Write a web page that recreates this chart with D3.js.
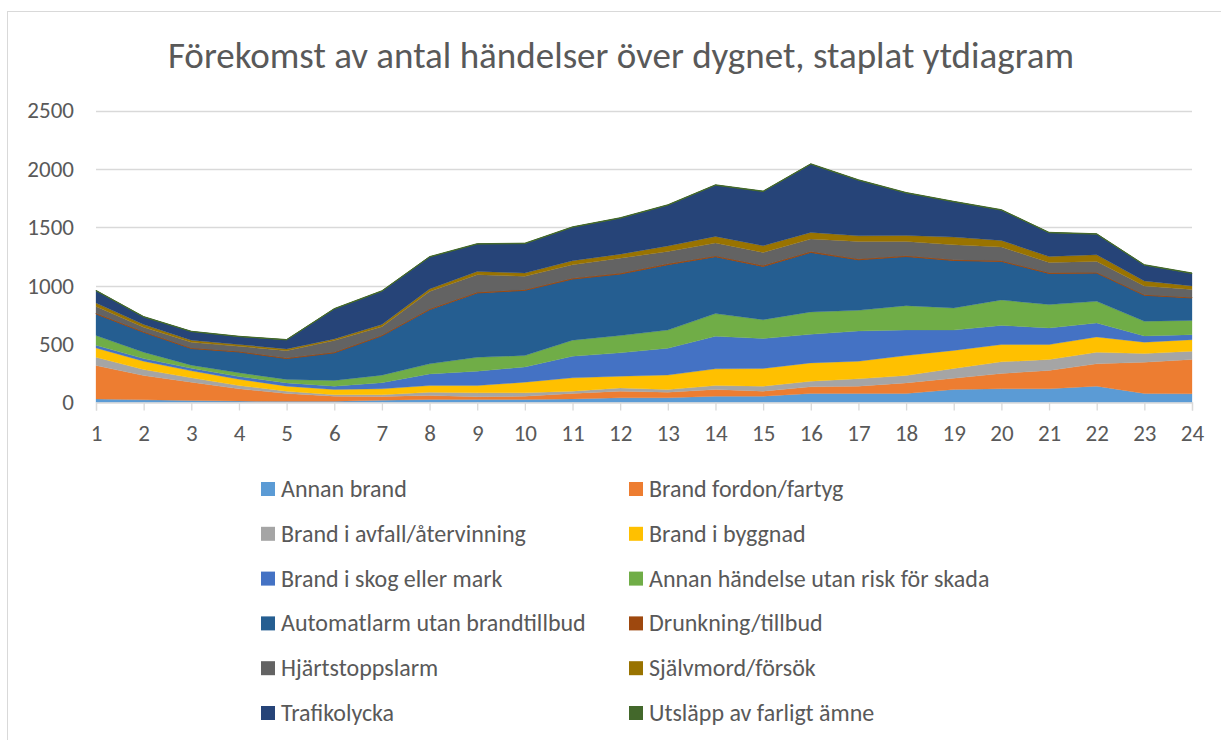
<!DOCTYPE html>
<html>
<head>
<meta charset="utf-8">
<script src="https://cdn.jsdelivr.net/npm/d3@7"></script>
<style>
body{margin:0;background:#fff;}
svg text{font-family:Carlito,Calibri,Lato,"Open Sans",sans-serif;fill:#595959;}
</style>
</head>
<body>
<svg id="chart" width="1221" height="740"></svg>
<script>
// timmar på dygnet
var hours = ["1","2","3","4","5","6","7","8","9","10","11","12","13","14","15","16","17","18","19","20","21","22","23","24"];

var seriesNames = ["Annan brand","Brand fordon/fartyg","Brand i avfall/återvinning","Brand i byggnad",
	"Brand i skog eller mark","Annan händelse utan risk för skada","Automatlarm utan brandtillbud",
	"Drunkning/tillbud","Hjärtstoppslarm","Självmord/försök","Trafikolycka","Utsläpp av farligt ämne"];

var colors = ["#5B9BD5","#ED7D31","#A5A5A5","#FFC000","#4472C4","#70AD47","#255E91",
	"#9E480E","#636363","#997300","#264478","#43682B"];

// värden
var annanBrand    = [30,23,17,12,10,10,20,26,26,26,31,40,40,54,54,77,77,77,111,117,117,140,77,74];
var brandFordon   = [286,208,157,105,67,44,32,34,23,28,46,57,48,57,43,57,63,91,96,131,157,191,268,294];
var brandAvfall   = [71,51,37,28,20,12,14,28,34,29,20,28,23,34,43,48,63,63,85,100,94,99,74,71];
var brandByggnad  = [80,71,60,54,43,45,51,57,62,91,114,100,124,143,151,157,150,171,154,148,128,131,97,99];
var brandSkog     = [23,23,22,23,28,29,53,100,123,131,185,200,230,279,256,245,259,219,174,164,142,120,54,43];
var annanHandelse = [83,54,26,32,29,48,64,86,119,97,137,148,155,194,162,191,177,208,189,218,200,185,125,122];
var automatlarm   = [185,171,143,179,179,237,337,464,551,558,524,527,560,487,456,510,433,421,407,330,267,242,223,192];
var drunkning     = [6,5,5,4,4,5,5,6,6,6,6,7,7,7,7,7,7,7,6,6,6,6,5,5];
var hjartstopp    = [58,38,48,44,64,100,72,150,150,114,116,129,106,110,113,107,150,122,128,117,88,94,74,68];
var sjalvmord     = [29,23,18,15,15,14,20,21,28,28,35,34,47,57,57,57,48,51,66,56,51,57,43,30];
var trafikolycka  = [105,65,74,68,77,256,285,273,234,252,286,308,349,438,464,584,476,364,302,260,203,176,136,107];
var utslapp       = [4,4,3,3,3,4,4,4,4,4,4,4,4,4,4,4,4,4,4,4,4,4,4,4];

var yTicks = [0,500,1000,1500,2000,2500];

var allSeries = [annanBrand,brandFordon,brandAvfall,brandByggnad,brandSkog,annanHandelse,
	automatlarm,drunkning,hjartstopp,sjalvmord,trafikolycka,utslapp];

// bygg tabell för d3.stack
var table = [];
for(var i = 0; i < hours.length; i++){
	var row = {hour: hours[i]};
	for(var s = 0; s < seriesNames.length; s++){
		row[seriesNames[s]] = allSeries[s][i];
	}
	table.push(row);
}

var svg = d3.select("#chart");

// ram runt diagrammet
svg.append("rect")
	.attr("x", 7.5).attr("y", 11.5)
	.attr("width", 1240).attr("height", 760)
	.attr("fill", "none").attr("stroke", "#d9d9d9").attr("stroke-width", 1);

svg.append("text")
	.attr("x", 621).attr("y", 68)
	.attr("text-anchor", "middle")
	.style("font-size", "37px")
	.style("font-weight", 300)
	.text("Förekomst av antal händelser över dygnet, staplat ytdiagram");

var x = d3.scalePoint().domain(hours).range([96, 1192]);
var y = d3.scaleLinear().domain([0, 2500]).range([402.5, 110.5]);

// rutnät
svg.append("g").selectAll("line")
	.data(yTicks.slice(1))
	.enter().append("line")
	.attr("x1", 96).attr("x2", 1192)
	.attr("y1", function(d){ return Math.round(y(d)) + 0.5; })
	.attr("y2", function(d){ return Math.round(y(d)) + 0.5; })
	.attr("stroke", "#d9d9d9").attr("stroke-width", 1.3);

var stack = d3.stack().keys(seriesNames);
var layers = stack(table);

var area = d3.area()
	.x(function(d){ return x(d.data.hour); })
	.y0(function(d){ return y(d[0]); })
	.y1(function(d){ return y(d[1]); });

svg.append("g").selectAll("path")
	.data(layers)
	.enter().append("path")
	.attr("d", area)
	.attr("fill", function(d, i){ return colors[i]; })
	.attr("stroke", function(d, i){ return colors[i]; })
	.attr("stroke-width", function(d, i){ return (i == 7 || i == 11) ? 1 : 0.3; });

// x-axel
var xAxis = svg.append("g")
	.attr("transform", "translate(0,402.5)")
	.call(d3.axisBottom(x).tickSize(8).tickPadding(14));
xAxis.select(".domain").attr("stroke", "#d9d9d9").attr("stroke-width", 1.3);
xAxis.selectAll(".tick line").attr("stroke", "#d9d9d9").attr("stroke-width", 1.3);
xAxis.selectAll("text").style("font-size", "23px").attr("fill", "#595959");

// y-axel, bara etiketter
var yAxis = svg.append("g")
	.attr("transform", "translate(74,0)")
	.call(d3.axisLeft(y).tickValues(yTicks).tickFormat(d3.format("d")).tickSize(0).tickPadding(0));
yAxis.select(".domain").remove();
yAxis.selectAll("text").style("font-size", "23px").attr("fill", "#595959");

// förklaring
var legend = svg.append("g");
var item = legend.selectAll("g")
	.data(seriesNames)
	.enter().append("g")
	.attr("transform", function(d, i){
		return "translate(" + (i % 2 == 0 ? 261 : 629) + "," + (489 + Math.floor(i / 2) * 44.8) + ")";
	});
item.append("rect")
	.attr("x", 0).attr("y", -7)
	.attr("width", 14).attr("height", 14)
	.attr("fill", function(d, i){ return colors[i]; });
item.append("text")
	.attr("x", 20).attr("y", 8)
	.style("font-size", "24px")
	.text(function(d){ return d; });
</script>
</body>
</html>
